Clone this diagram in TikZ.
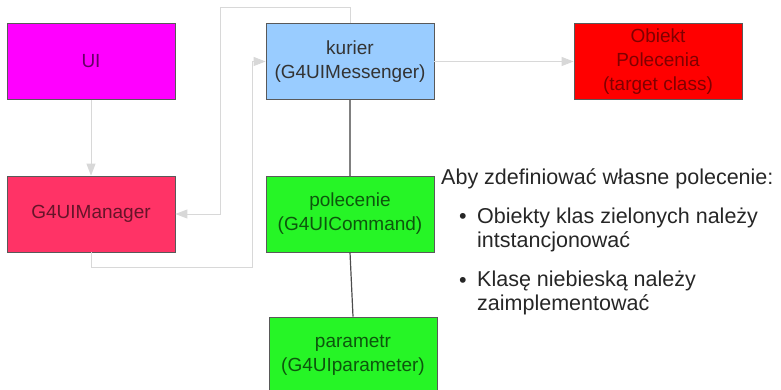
\documentclass[tikz,border=0pt]{standalone}
\usepackage{fontspec}
\setmainfont{Liberation Sans}
\usetikzlibrary{arrows.meta,positioning}

\definecolor{uimag}{RGB}{255,0,255}
\definecolor{mgrred}{RGB}{255,51,102}
\definecolor{msgblue}{RGB}{153,204,255}
\definecolor{cmdgreen}{RGB}{38,245,38}
\definecolor{objred}{RGB}{255,0,0}
\definecolor{linegray}{RGB}{216,216,216}

\tikzset{
  klasa/.style={draw=black!65, line width=0.8pt, minimum width=168pt, minimum height=76pt,
    align=center, font=\fontsize{19}{24}\selectfont, inner sep=0pt},
  flow/.style={linegray, line width=1pt, -{Triangle[length=12pt,width=9pt]}},
  link/.style={black!50, line width=1.2pt},
  tekst/.style={font=\fontsize{21.5}{24}\selectfont, text=black!85, inner sep=0pt}
}

\begin{document}
\begin{tikzpicture}[x=1pt,y=-1pt]
  \useasboundingbox (0,0) rectangle (781,390);

  % klasy
  \node[klasa, fill=uimag, text=black!60!uimag] (ui) at (91,61.5) {UI};
  \node[klasa, fill=mgrred, text=black!60!mgrred] (mgr) at (91,214) {G4UIManager};
  \node[klasa, fill=msgblue, text=black!80] (kurier) at (350,61.5) {kurier\\(G4UIMessenger)};
  \node[klasa, fill=cmdgreen, text=black!65!cmdgreen] (polecenie) at (350,214) {polecenie\\(G4UICommand)};
  \node[klasa, fill=cmdgreen, text=black!65!cmdgreen] (parametr) at (353,355) {parametr\\(G4UIparameter)};
  \node[klasa, fill=objred, text=black!50!objred] (obiekt) at (658,61.5) {Obiekt\\Polecenia\\(target class)};

  % polaczenia
  \draw[flow] (ui) -- (mgr);
  \draw[flow] (mgr.south) -- ++(0,15) -| ([xshift=-13pt]kurier.west) -- (kurier.west);
  \draw[flow] (kurier.north) -- ++(0,-16) -| ([xshift=45pt]mgr.east) -- (mgr.east);
  \draw[flow] (kurier) -- (obiekt);
  \draw[link] (kurier) -- (polecenie);
  \draw[link, black!70] (polecenie.south) -- (parametr.north);

  % opis
  \node[tekst, anchor=base west] (tytul) at (441,185) {Aby zdefiniować własne polecenie:};
  \node[tekst, anchor=base] (p1) at (463,223) {•};
  \node[tekst, anchor=base west, align=left] (t1) at (477,247) {Obiekty klas zielonych należy\\intstancjonować};
  \node[tekst, anchor=base] (p2) at (463,287) {•};
  \node[tekst, anchor=base west, align=left] (t2) at (477,310) {Klasę niebieską należy\\zaimplementować};
\end{tikzpicture}
\end{document}
